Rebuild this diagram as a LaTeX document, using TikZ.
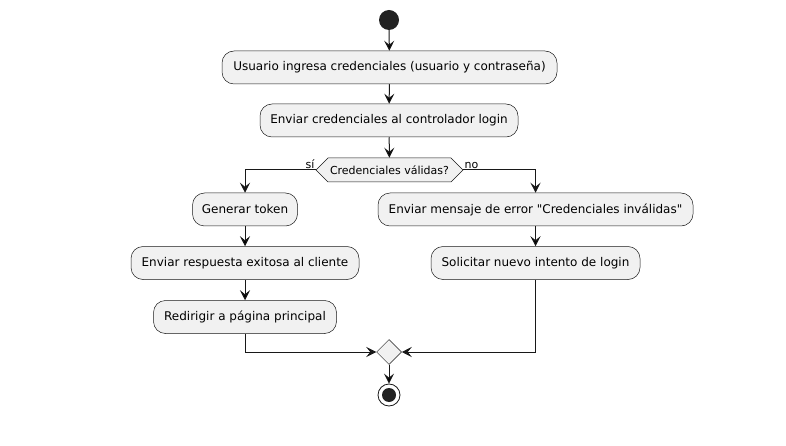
\documentclass[tikz,border=0pt]{standalone}
\usepackage{fontspec}
\setmainfont{DejaVu Sans}[Ligatures=TeXOff]
\usepackage{xcolor}
\usepackage{pgf,tikz}
\usetikzlibrary{arrows.meta, shapes.geometric, shapes.symbols, positioning, calc}

\definecolor{umlfill}{HTML}{F1F1F1}
\definecolor{umlline}{HTML}{181818}
\definecolor{umldot}{HTML}{222222}

\tikzset{
  act/.style={shape=rectangle, rounded corners=12pt, draw=umlline, line width=0.5pt,
    fill=umlfill, minimum height=33pt, inner xsep=4pt, font=\fontsize{12}{14}\selectfont},
  decide/.style={shape=signal, signal to=west and east, signal pointer angle=90,
    draw=umlline, line width=0.5pt, fill=umlfill, minimum height=24pt, inner xsep=2pt,
    inner ysep=2pt, font=\fontsize{11}{13}\selectfont},
  merge/.style={shape=diamond, draw=umlline, line width=0.5pt, fill=umlfill,
    minimum size=25pt, inner sep=0pt},
  startdot/.style={shape=circle, fill=umldot, minimum size=20pt, inner sep=0pt},
  stopdot/.style={shape=circle, draw=umlline, line width=0.8pt, fill=white,
    minimum size=22pt, inner sep=0pt},
  flow/.style={draw=umlline, line width=1pt, -{Stealth[length=10pt,width=10pt,inset=4pt]}},
  guard/.style={font=\fontsize{11}{13}\selectfont, inner sep=1pt}
}

\begin{document}
\begin{tikzpicture}[x=1pt,y=-1pt]
    \useasboundingbox (0,0) rectangle (786,446);
    \node[startdot] (start) at (389,20) {};
    \node[act,minimum width=335pt] (ingresa) at (389.5,67.5) {Usuario ingresa credenciales (usuario y contraseña)};
    \node[act,minimum width=258pt] (enviar) at (389,120.5) {Enviar credenciales al controlador login};
    \node[decide,minimum width=143pt] (valida) at (389.5,170) {Credenciales válidas?};
    \node[act,minimum width=105pt] (token) at (245,209.5) {Generar token};
    \node[act,minimum width=228pt] (exito) at (245,263) {Enviar respuesta exitosa al cliente};
    \node[act,minimum width=183pt] (redir) at (245,317) {Redirigir a página principal};
    \node[act,minimum width=315pt] (error) at (535.5,209.5) {Enviar mensaje de error "Credenciales inválidas"};
    \node[act,minimum width=209pt] (nuevo) at (535.5,263) {Solicitar nuevo intento de login};
    \node[merge] (junta) at (389,352) {};
    \node[stopdot] (stop) at (389,395) {};
    \fill[umldot] (stop.center) circle (7pt);
    % guards
    \node[guard,anchor=south east] (si) at (valida.west) {sí};
    \node[guard,anchor=south west] (no) at (valida.east) {no};
    % flow
    \path [flow](start) edge node {} (ingresa);
    \path [flow](ingresa) edge node {} (enviar);
    \path [flow](enviar) edge node {} (valida);
    \draw [flow](valida.west) -| (token);
    \draw [flow](valida.east) -| (error);
    \path [flow](token) edge node {} (exito);
    \path [flow](exito) edge node {} (redir);
    \path [flow](error) edge node {} (nuevo);
    \draw [flow](redir) |- (junta);
    \draw [flow](nuevo) |- (junta);
    \path [flow](junta) edge node {} (stop);
\end{tikzpicture}
\end{document}
